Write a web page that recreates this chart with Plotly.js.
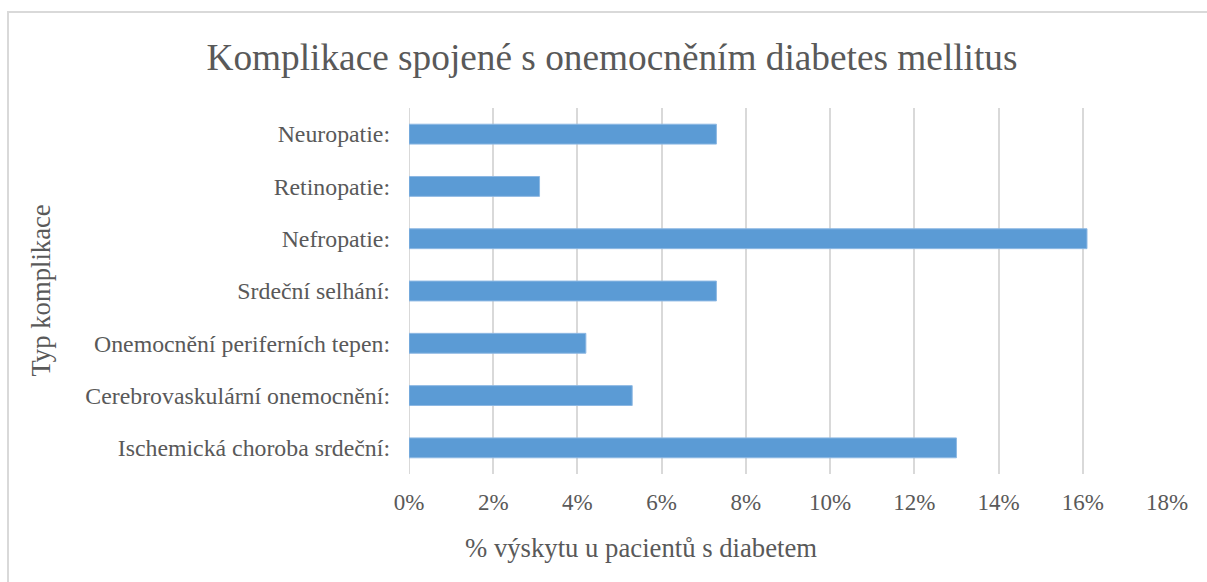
<!DOCTYPE html>
<html>
<head>
<meta charset="utf-8">
<script src="https://cdn.plot.ly/plotly-3.0.1.min.js"></script>
<style>
html,body{margin:0;padding:0;background:#fff;overflow:hidden;}
#chart{position:absolute;left:0;top:0;width:1207px;height:582px;}
#frame{position:absolute;left:7px;top:11px;width:1210px;height:600px;border:2px solid #d9d9d9;pointer-events:none;box-sizing:border-box;}
</style>
</head>
<body>
<div id="chart"></div>
<div id="frame"></div>
<script>
const categories = [
  "Ischemická choroba srdeční:",
  "Cerebrovaskulární onemocnění:",
  "Onemocnění periferních tepen:",
  "Srdeční selhání:",
  "Nefropatie:",
  "Retinopatie:",
  "Neuropatie:"
];
const values = [13.0, 5.3, 4.2, 7.3, 16.1, 3.1, 7.3];
const xTickValues = [0, 2, 4, 6, 8, 10, 12, 14, 16, 18];
const xTickLabels = ["0%", "2%", "4%", "6%", "8%", "10%", "12%", "14%", "16%", "18%"];
const chartTitle = "Komplikace spojené s onemocněním diabetes mellitus";
const xTitle = "% výskytu u pacientů s diabetem";
const yTitle = "Typ komplikace";

const font = "'Liberation Serif', serif";
const grey = "#595959";

const trace = {
  type: "bar",
  orientation: "h",
  y: categories,
  x: values,
  marker: {color: "#5b9bd5", line: {color: "#8db8e3", width: 1}},
  hoverinfo: "x+y"
};

const L = 408.5, R = 1207 - 1166.7, T = 107.8, B = 582 - 474.2;
const pw = 1207 - L - R, ph = 582 - T - B;

const layout = {
  width: 1207, height: 582,
  margin: {l: L, r: R, t: T, b: B, pad: 0},
  paper_bgcolor: "#fff", plot_bgcolor: "#fff",
  showlegend: false,
  bargap: 0.62,
  font: {family: font, color: grey},
  title: {
    text: chartTitle,
    font: {family: font, size: 37.3, color: grey},
    xref: "container", x: 612 / 1207, xanchor: "center",
    yref: "container", y: 1 - 57 / 582, yanchor: "middle"
  },
  xaxis: {
    range: [0, 18],
    tickvals: xTickValues,
    ticktext: xTickLabels,
    showgrid: true, gridcolor: "#d9d9d9", gridwidth: 2,
    zeroline: false,
    showline: false,
    ticks: "",
    ticklabelstandoff: 12,
    tickfont: {family: font, size: 23, color: grey},
    fixedrange: true
  },
  yaxis: {
    type: "category",
    showgrid: false, zeroline: false, showline: false,
    ticks: "",
    ticklabelstandoff: 18,
    tickfont: {family: font, size: 23.8, color: grey},
    fixedrange: true
  },
  shapes: [{
    type: "line", xref: "x", yref: "paper",
    x0: 0, x1: 0, y0: 0, y1: 1,
    line: {color: "#d9d9d9", width: 2}, layer: "below"
  }],
  annotations: [
    {
      text: xTitle, showarrow: false,
      xref: "paper", yref: "paper",
      x: (641 - L) / pw, y: -(548 - (582 - B)) / ph,
      xanchor: "center", yanchor: "middle",
      font: {family: font, size: 26.7, color: grey}
    },
    {
      text: yTitle, showarrow: false, textangle: -90,
      xref: "paper", yref: "paper",
      x: (40 - L) / pw, y: 0.5,
      xanchor: "center", yanchor: "middle",
      font: {family: font, size: 26.7, color: grey}
    }
  ]
};

Plotly.newPlot("chart", [trace], layout, {displayModeBar: false, staticPlot: true});
</script>
</body>
</html>
